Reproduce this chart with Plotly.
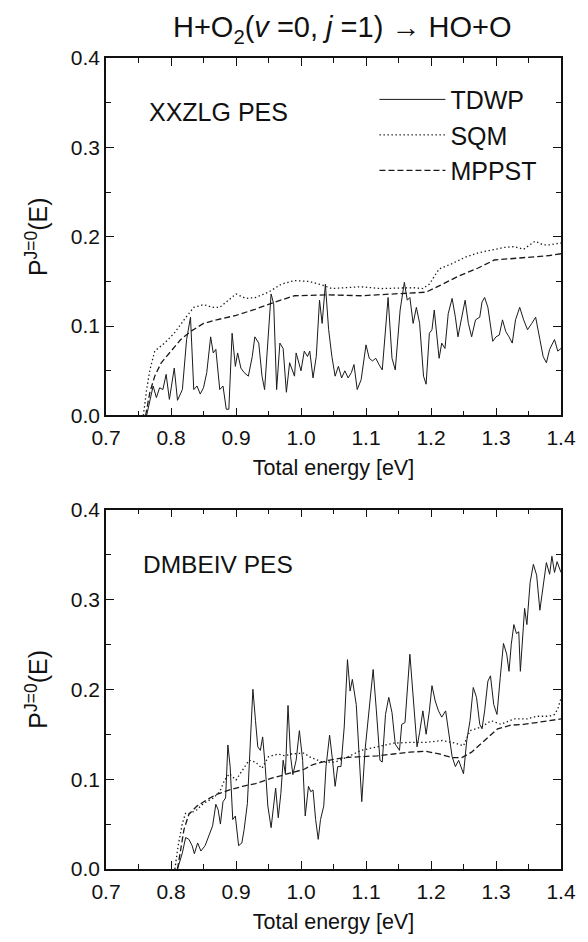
import plotly.graph_objects as go

# ---- XXZLG PES (upper panel) ----
top_tdwp_e = [0.7625, 0.7725, 0.7775, 0.7825, 0.7875, 0.7925, 0.7975, 0.805, 0.810, 0.8175,
              0.824, 0.830, 0.835, 0.840, 0.845, 0.850, 0.855, 0.861, 0.865, 0.869,
              0.875, 0.880, 0.885, 0.889, 0.894, 0.899, 0.9025, 0.9075, 0.9125, 0.919,
              0.925, 0.929, 0.935, 0.940, 0.944, 0.949, 0.954, 0.958, 0.9625, 0.9675,
              0.9725, 0.9775, 0.9825, 0.990, 0.9925, 1.000, 1.005, 1.010, 1.0135, 1.0185,
              1.0235, 1.0285, 1.0325, 1.0375, 1.0425, 1.0475, 1.0525, 1.0575, 1.0625, 1.0675,
              1.0725, 1.0775, 1.0815, 1.0865, 1.0925, 1.100, 1.105, 1.110, 1.115, 1.120,
              1.125, 1.134, 1.140, 1.145, 1.1525, 1.159, 1.1635, 1.1675, 1.1725, 1.1775,
              1.1825, 1.1885, 1.1925, 1.1975, 1.2015, 1.205, 1.2085, 1.2125, 1.2165, 1.2215,
              1.2265, 1.2325, 1.2375, 1.2415, 1.2465, 1.2525, 1.2575, 1.2625, 1.2685, 1.275,
              1.2785, 1.2825, 1.2875, 1.2915, 1.295, 1.300, 1.305, 1.310, 1.315, 1.320,
              1.325, 1.330, 1.3365, 1.3425, 1.3485, 1.355, 1.361, 1.3675, 1.3725, 1.3775,
              1.3825, 1.390, 1.395, 1.400]
top_tdwp_p = [0.000, 0.033, 0.020, 0.031, 0.029, 0.046, 0.018, 0.053, 0.017, 0.029,
              0.085, 0.110, 0.029, 0.033, 0.024, 0.031, 0.048, 0.088, 0.070, 0.074,
              0.029, 0.033, 0.007, 0.007, 0.092, 0.055, 0.070, 0.053, 0.048, 0.044,
              0.066, 0.088, 0.081, 0.044, 0.029, 0.077, 0.136, 0.125, 0.029, 0.081,
              0.075, 0.026, 0.059, 0.044, 0.070, 0.050, 0.072, 0.066, 0.072, 0.042,
              0.066, 0.129, 0.103, 0.147, 0.096, 0.066, 0.044, 0.055, 0.042, 0.050,
              0.042, 0.048, 0.057, 0.029, 0.040, 0.079, 0.064, 0.061, 0.064, 0.057,
              0.051, 0.132, 0.064, 0.051, 0.118, 0.149, 0.129, 0.132, 0.103, 0.121,
              0.103, 0.044, 0.035, 0.092, 0.096, 0.118, 0.096, 0.064, 0.081, 0.075,
              0.114, 0.131, 0.110, 0.088, 0.107, 0.129, 0.103, 0.088, 0.107, 0.110,
              0.127, 0.132, 0.121, 0.103, 0.083, 0.088, 0.090, 0.107, 0.094, 0.088,
              0.081, 0.107, 0.121, 0.107, 0.096, 0.103, 0.110, 0.085, 0.066, 0.059,
              0.074, 0.085, 0.072, 0.075]

top_sqm_e = [0.7575, 0.7625, 0.7675, 0.775, 0.790, 0.805, 0.820, 0.835, 0.850, 0.865,
             0.875, 0.8875, 0.900, 0.915, 0.930, 0.950, 0.970, 0.990, 1.0125, 1.0325,
             1.0475, 1.0675, 1.0925, 1.1225, 1.1525, 1.1725, 1.1875, 1.1975, 1.2125, 1.2325,
             1.2525, 1.2725, 1.2925, 1.3125, 1.3275, 1.3425, 1.360, 1.3725, 1.3825, 1.400]
top_sqm_p = [0.000, 0.029, 0.051, 0.072, 0.081, 0.092, 0.107, 0.121, 0.124, 0.121,
             0.121, 0.129, 0.136, 0.131, 0.132, 0.138, 0.147, 0.151, 0.150, 0.146,
             0.142, 0.143, 0.144, 0.142, 0.143, 0.143, 0.142, 0.147, 0.164, 0.170,
             0.177, 0.182, 0.185, 0.188, 0.189, 0.186, 0.195, 0.191, 0.191, 0.193]

top_mppst_e = [0.761, 0.7675, 0.775, 0.785, 0.800, 0.815, 0.830, 0.850, 0.870, 0.900,
               0.930, 0.960, 0.990, 1.0425, 1.0925, 1.1425, 1.1925, 1.2125, 1.2425, 1.2725,
               1.2975, 1.3325, 1.3825, 1.400]
top_mppst_p = [0.000, 0.026, 0.044, 0.059, 0.072, 0.085, 0.094, 0.103, 0.107, 0.112,
               0.119, 0.127, 0.134, 0.135, 0.134, 0.136, 0.138, 0.145, 0.156, 0.165,
               0.174, 0.176, 0.179, 0.181]

# ---- DMBEIV PES (lower panel) ----
bot_tdwp_e = [0.810, 0.8175, 0.8225, 0.8275, 0.8325, 0.836, 0.841, 0.846, 0.8525, 0.860,
              0.864, 0.869, 0.8725, 0.876, 0.880, 0.884, 0.8875, 0.891, 0.895, 0.899,
              0.904, 0.909, 0.9125, 0.9175, 0.9215, 0.926, 0.930, 0.9335, 0.9375, 0.941,
              0.945, 0.949, 0.954, 0.9575, 0.961, 0.965, 0.969, 0.9725, 0.976, 0.980,
              0.984, 0.9875, 0.9925, 0.9975, 1.0025, 1.0065, 1.0115, 1.015, 1.0185, 1.0225,
              1.0265, 1.030, 1.035, 1.0385, 1.044, 1.0485, 1.0525, 1.0565, 1.0615, 1.0665,
              1.0715, 1.0755, 1.079, 1.085, 1.090, 1.0935, 1.0985, 1.105, 1.111, 1.116,
              1.1215, 1.125, 1.130, 1.135, 1.140, 1.145, 1.1515, 1.155, 1.160, 1.1675,
              1.1725, 1.1785, 1.1825, 1.1875, 1.1925, 1.1975, 1.2015, 1.2065, 1.2115, 1.2165,
              1.2225, 1.2275, 1.2325, 1.2375, 1.2425, 1.250, 1.255, 1.260, 1.265, 1.270,
              1.275, 1.2785, 1.2825, 1.2875, 1.2915, 1.2965, 1.3015, 1.3065, 1.3115, 1.3165,
              1.320, 1.3235, 1.3275, 1.3315, 1.335, 1.3375, 1.341, 1.344, 1.3475, 1.3525,
              1.3575, 1.3625, 1.3675, 1.3725, 1.3775, 1.3825, 1.386, 1.390, 1.394, 1.400]
bot_tdwp_p = [0.000, 0.018, 0.035, 0.033, 0.026, 0.017, 0.029, 0.020, 0.026, 0.040,
              0.048, 0.072, 0.066, 0.050, 0.075, 0.079, 0.138, 0.114, 0.055, 0.059,
              0.026, 0.029, 0.044, 0.073, 0.128, 0.200, 0.165, 0.136, 0.132, 0.147,
              0.114, 0.070, 0.046, 0.070, 0.090, 0.057, 0.084, 0.121, 0.106, 0.182,
              0.125, 0.105, 0.121, 0.154, 0.121, 0.059, 0.092, 0.086, 0.088, 0.055,
              0.033, 0.055, 0.070, 0.114, 0.149, 0.121, 0.092, 0.114, 0.114, 0.158,
              0.233, 0.198, 0.211, 0.183, 0.110, 0.075, 0.132, 0.180, 0.222, 0.176,
              0.121, 0.119, 0.172, 0.191, 0.174, 0.139, 0.132, 0.161, 0.163, 0.239,
              0.194, 0.136, 0.152, 0.176, 0.150, 0.176, 0.204, 0.187, 0.176, 0.169,
              0.176, 0.150, 0.125, 0.114, 0.121, 0.106, 0.143, 0.165, 0.202, 0.191,
              0.161, 0.156, 0.176, 0.209, 0.215, 0.183, 0.172, 0.213, 0.251, 0.239,
              0.220, 0.250, 0.272, 0.262, 0.264, 0.220, 0.253, 0.290, 0.272, 0.319,
              0.339, 0.327, 0.288, 0.312, 0.341, 0.328, 0.348, 0.330, 0.342, 0.330]

bot_sqm_e = [0.806, 0.811, 0.8175, 0.8225, 0.830, 0.840, 0.850, 0.865, 0.875, 0.8825,
             0.890, 0.900, 0.910, 0.920, 0.930, 0.940, 0.950, 0.965, 0.975, 0.985,
             1.005, 1.0125, 1.0325, 1.0525, 1.0725, 1.0925, 1.1175, 1.1425, 1.1675, 1.1925,
             1.2175, 1.2375, 1.250, 1.260, 1.2775, 1.2925, 1.3075, 1.3275, 1.3475, 1.3625,
             1.3825, 1.390, 1.395, 1.400]
bot_sqm_p = [0.000, 0.026, 0.051, 0.062, 0.062, 0.066, 0.073, 0.079, 0.086, 0.099,
             0.106, 0.099, 0.110, 0.121, 0.119, 0.112, 0.125, 0.128, 0.126, 0.128,
             0.129, 0.125, 0.119, 0.119, 0.125, 0.132, 0.136, 0.140, 0.141, 0.141,
             0.143, 0.140, 0.137, 0.154, 0.158, 0.165, 0.161, 0.167, 0.167, 0.170,
             0.170, 0.172, 0.178, 0.190]

bot_mppst_e = [0.810, 0.815, 0.820, 0.8275, 0.840, 0.855, 0.870, 0.890, 0.910, 0.930,
               0.955, 0.980, 1.005, 1.0175, 1.0425, 1.0675, 1.0925, 1.1175, 1.1425, 1.1675,
               1.1925, 1.2125, 1.2325, 1.2475, 1.2625, 1.2825, 1.3025, 1.3225, 1.3425, 1.3625,
               1.3825, 1.400]
bot_mppst_p = [0.000, 0.022, 0.044, 0.061, 0.070, 0.077, 0.083, 0.088, 0.092, 0.095,
               0.101, 0.106, 0.111, 0.116, 0.121, 0.124, 0.125, 0.126, 0.128, 0.130,
               0.131, 0.128, 0.124, 0.124, 0.130, 0.143, 0.156, 0.160, 0.161, 0.163,
               0.165, 0.167]

panel_labels = ["XXZLG PES", "DMBEIV PES"]
series_names = ["TDWP", "SQM", "MPPST"]
x_ticks = [0.7, 0.8, 0.9, 1.0, 1.1, 1.2, 1.3, 1.4]
y_ticks = [0.0, 0.1, 0.2, 0.3, 0.4]

FONT = "Liberation Sans, Arial, Helvetica, sans-serif"
styles = [dict(color="#1a1a1a", width=1.0, dash="solid"),
          dict(color="#1a1a1a", width=1.3, dash="1.4px,2.6px"),
          dict(color="#1a1a1a", width=1.3, dash="6px,3px")]

fig = go.Figure()
panels = [
    ("x", "y", [(top_tdwp_e, top_tdwp_p), (top_sqm_e, top_sqm_p), (top_mppst_e, top_mppst_p)], True),
    ("x2", "y2", [(bot_tdwp_e, bot_tdwp_p), (bot_sqm_e, bot_sqm_p), (bot_mppst_e, bot_mppst_p)], False),
]
for xa, ya, data, show in panels:
    for name, (e, p), st in zip(series_names, data, styles):
        fig.add_trace(go.Scatter(x=e, y=p, mode="lines", name=name, line=st,
                                 xaxis=xa, yaxis=ya, showlegend=show))

axis_common = dict(
    showline=True, linecolor="#111", linewidth=1.5, mirror="ticks",
    ticks="inside", ticklen=8, tickwidth=1.3, tickcolor="#111",
    showgrid=False, zeroline=False,
    tickfont=dict(family=FONT, size=21, color="#111"),
    minor=dict(ticks="inside", ticklen=5, tickwidth=1.2, tickcolor="#111", dtick=0.05),
)
xaxis_common = dict(axis_common, range=[0.7, 1.4], tickvals=x_ticks,
                    ticktext=[f"{v:.1f}" for v in x_ticks], ticklabelstandoff=3,
                    title=dict(text="Total energy [eV]", standoff=12,
                               font=dict(family=FONT, size=21.5, color="#111")))
yaxis_common = dict(axis_common, range=[0, 0.4], tickvals=y_ticks,
                    ticktext=[f"{v:.1f}" for v in y_ticks],
                    title=dict(text="P<sup>J=0</sup>(E)", standoff=16,
                               font=dict(family=FONT, size=25, color="#111")))

fig.update_layout(
    width=588, height=942,
    margin=dict(l=106, r=17, t=58, b=65),
    paper_bgcolor="white", plot_bgcolor="white",
    font=dict(family=FONT, color="#111"),
    xaxis=dict(xaxis_common, domain=[0, 1], anchor="y"),
    yaxis=dict(yaxis_common, domain=[0.5592, 1], anchor="x"),
    xaxis2=dict(xaxis_common, domain=[0, 1], anchor="y2"),
    yaxis2=dict(yaxis_common, domain=[0, 0.4432], anchor="x2"),
    title=dict(text="H+O<sub>2</sub>(<i>v</i> =0, <i>j</i> =1) → HO+O",
               x=0.582, xanchor="center", y=0.971, yanchor="middle",
               font=dict(family=FONT, size=29, color="#111")),
    legend=dict(x=0.59, y=0.977, xanchor="left", yanchor="top",
                bgcolor="rgba(0,0,0,0)", itemwidth=66, tracegroupgap=0,
                font=dict(family=FONT, size=25, color="#111")),
    showlegend=True,
)

fig.add_annotation(text=panel_labels[0], xref="x domain", yref="y domain",
                   x=0.09, y=0.85, xanchor="left", yanchor="middle", showarrow=False,
                   font=dict(family=FONT, size=25, color="#111"))
fig.add_annotation(text=panel_labels[1], xref="x2 domain", yref="y2 domain",
                   x=0.077, y=0.846, xanchor="left", yanchor="middle", showarrow=False,
                   font=dict(family=FONT, size=24.5, color="#111"))

fig.write_html("out.html")
